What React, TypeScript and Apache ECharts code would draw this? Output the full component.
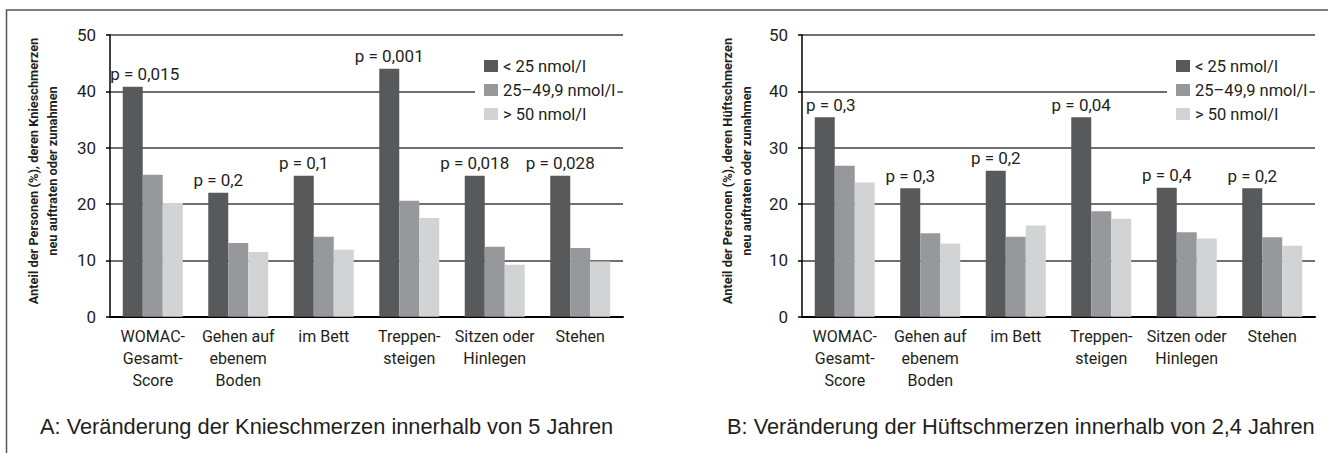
import React, { useEffect, useRef } from "react";
import * as echarts from "echarts";

const categories = [
  "WOMAC-\nGesamt-\nScore",
  "Gehen auf\nebenem\nBoden",
  "im Bett",
  "Treppen-\nsteigen",
  "Sitzen oder\nHinlegen",
  "Stehen",
];
const seriesNames = ["< 25 nmol/l", "25–49,9 nmol/l", "> 50 nmol/l"];
const seriesColors = ["#58595b", "#97989b", "#d2d3d5"];

const kneeLow = [40.8, 22.0, 25.0, 44.0, 25.0, 25.0];
const kneeMid = [25.2, 13.1, 14.2, 20.6, 12.4, 12.2];
const kneeHigh = [20.2, 11.5, 11.9, 17.5, 9.2, 9.8];
const kneeP = ["0,015", "0,2", "0,1", "0,001", "0,018", "0,028"];

const hipLow = [35.4, 22.8, 25.9, 35.4, 22.9, 22.8];
const hipMid = [26.8, 14.8, 14.2, 18.7, 15.0, 14.1];
const hipHigh = [23.8, 13.0, 16.2, 17.4, 13.9, 12.6];
const hipP = ["0,3", "0,3", "0,2", "0,04", "0,4", "0,2"];

const yMin = 0;
const yMax = 50;
const yInterval = 10;

const titleA = "A: Veränderung der Knieschmerzen innerhalb von 5 Jahren";
const titleB = "B: Veränderung der Hüftschmerzen innerhalb von 2,4 Jahren";
const yTitleA = "Anteil der Personen (%), deren Knieschmerzen\nneu auftraten oder zunahmen";
const yTitleB = "Anteil der Personen (%), deren Hüftschmerzen\nneu auftraten oder zunahmen";

const NARROW = 'Roboto, "Liberation Sans", sans-serif';
const REGULAR = '"Liberation Sans", Arial, sans-serif';
const TXT = "#231f20";

function App() {
  const ref = useRef<HTMLDivElement>(null);
  useEffect(() => {
    if (!ref.current) return;
    const chart = echarts.init(ref.current, undefined, { renderer: "svg" });

    const grids = [
      { left: 110, top: 35, width: 513, height: 281.7 },
      { left: 802, top: 35, width: 513, height: 281.7 },
    ];

    const xAxisDef = (gridIndex: number) => ({
      type: "category",
      gridIndex,
      data: categories,
      axisLine: { show: true, lineStyle: { color: "#000", width: 2 } },
      axisTick: { show: false },
      axisLabel: {
        interval: 0,
        margin: 9,
        fontFamily: NARROW,
        fontSize: 16,
        lineHeight: 22,
        color: TXT,
        verticalAlign: "top",
      },
    });

    const yAxisDef = (gridIndex: number) => ({
      type: "value",
      gridIndex,
      min: yMin,
      max: yMax,
      interval: yInterval,
      axisLine: { show: true, lineStyle: { color: "#000", width: 1.5 } },
      axisTick: { show: true, length: 4, lineStyle: { color: "#000", width: 1.5 } },
      axisLabel: { margin: 14, fontFamily: NARROW, fontSize: 17, color: TXT },
      splitLine: { show: true, lineStyle: { color: "#404040", width: 1.5 } },
    });

    const makeSeries = (
      idx: number,
      low: number[],
      mid: number[],
      high: number[],
      pv: string[],
      firstOffset: number
    ) => {
      const labelBase = {
        show: true,
        position: "top",
        distance: 4,
        fontFamily: NARROW,
        fontSize: 17,
        color: TXT,
        formatter: (p: any) => "p = " + pv[p.dataIndex],
      };
      return [
        {
          type: "bar",
          name: seriesNames[0],
          xAxisIndex: idx,
          yAxisIndex: idx,
          barWidth: 20,
          barGap: "0%",
          itemStyle: { color: seriesColors[0] },
          label: labelBase,
          data: low.map((v, i) =>
            i === 0 && firstOffset ? { value: v, label: { offset: [firstOffset, 0] } } : v
          ),
        },
        {
          type: "bar",
          name: seriesNames[1],
          xAxisIndex: idx,
          yAxisIndex: idx,
          barWidth: 20,
          barGap: "0%",
          itemStyle: { color: seriesColors[1] },
          data: mid,
        },
        {
          type: "bar",
          name: seriesNames[2],
          xAxisIndex: idx,
          yAxisIndex: idx,
          barWidth: 20,
          barGap: "0%",
          itemStyle: { color: seriesColors[2] },
          data: high,
        },
      ];
    };

    const legendDef = (left: number) => ({
      orient: "vertical",
      left,
      top: 53,
      data: seriesNames,
      icon: "rect",
      itemWidth: 14,
      itemHeight: 12,
      itemGap: 6,
      padding: [4, 2, 4, 9],
      backgroundColor: "#ffffff",
      textStyle: { fontFamily: NARROW, fontSize: 16.5, lineHeight: 18, color: TXT },
      selectedMode: false,
    });

    const yTitle = (x: number, text: string) => ({
      type: "text",
      x,
      y: 171,
      rotation: Math.PI / 2,
      style: {
        text,
        fontFamily: NARROW,
        fontWeight: "bold",
        fontSize: 12.8,
        lineHeight: 19,
        fill: TXT,
        align: "center",
        verticalAlign: "middle",
      },
    });

    const mainTitle = (x: number, text: string) => ({
      type: "text",
      x,
      y: 426.5,
      style: {
        text,
        fontFamily: REGULAR,
        fontSize: 21.8,
        fill: TXT,
        align: "left",
        verticalAlign: "middle",
      },
    });

    chart.setOption({
      animation: false,
      grid: grids,
      xAxis: [xAxisDef(0), xAxisDef(1)],
      yAxis: [yAxisDef(0), yAxisDef(1)],
      legend: [legendDef(475), legendDef(1167)],
      series: [
        ...makeSeries(0, kneeLow, kneeMid, kneeHigh, kneeP, 12),
        ...makeSeries(1, hipLow, hipMid, hipHigh, hipP, 6),
      ],
      graphic: [
        {
          type: "rect",
          shape: { x: 6.5, y: 10, width: 1400, height: 500 },
          style: { fill: "none", stroke: "#555", lineWidth: 1.5 },
          z: -1,
        },
        yTitle(42.5, yTitleA),
        yTitle(737, yTitleB),
        mainTitle(40, titleA),
        mainTitle(727, titleB),
      ],
    });

    return () => chart.dispose();
  }, []);

  return (
    <div
      ref={ref}
      style={{ position: "fixed", left: 0, top: 0, width: 1328, height: 453, background: "#fff" }}
    />
  );
}

export default App;
